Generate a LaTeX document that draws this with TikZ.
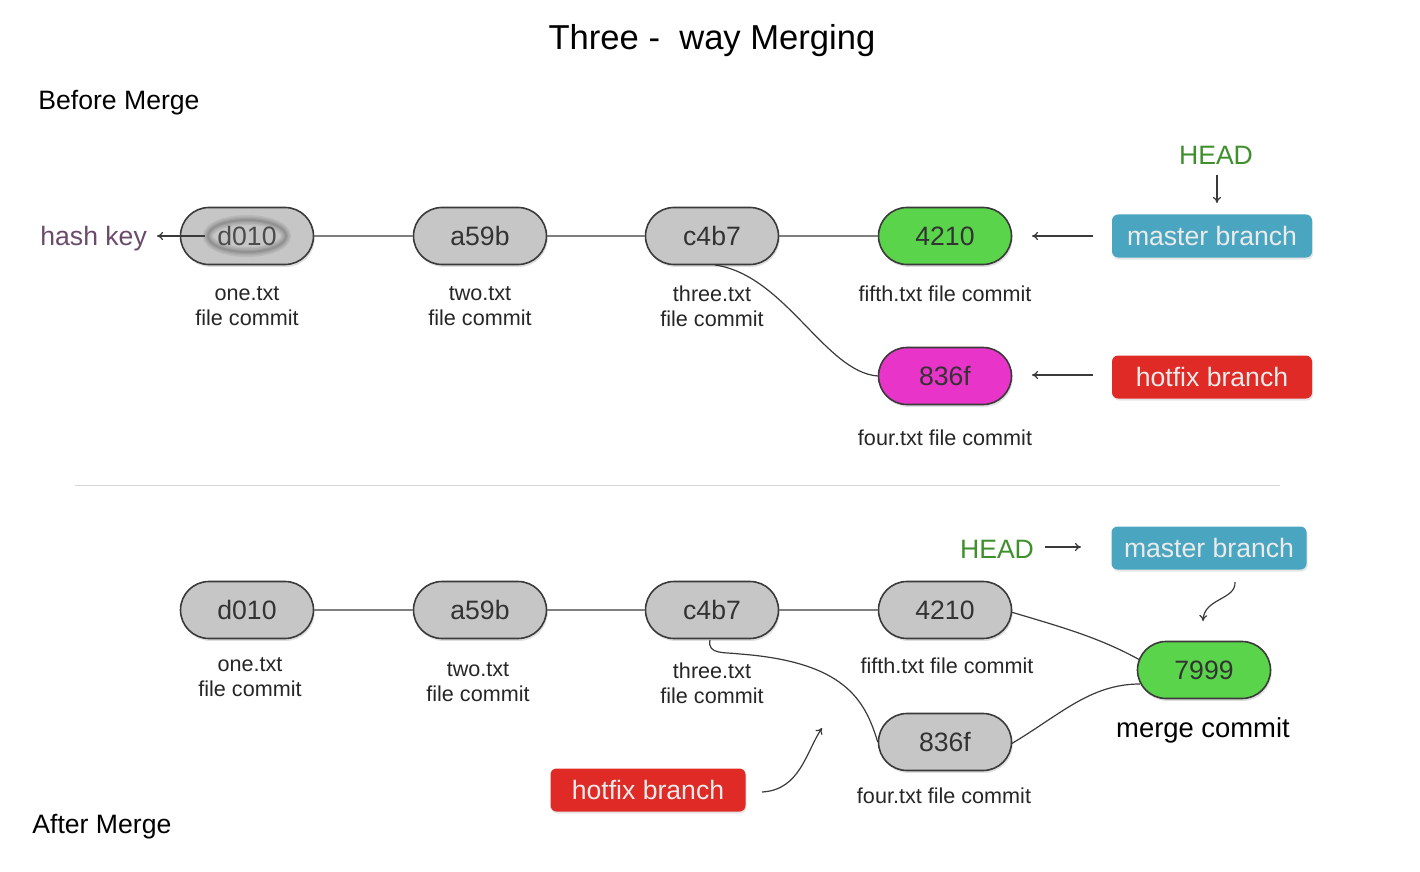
\documentclass[tikz,border=0pt]{standalone}
\usepackage{fontspec}
\setmainfont{Liberation Sans}
\usetikzlibrary{shapes.misc,shadows,arrows.meta}
\definecolor{pillgray}{HTML}{C6C6C6}
\definecolor{pillgreen}{HTML}{5AD44A}
\definecolor{pillmag}{HTML}{E834C8}
\definecolor{boxteal}{HTML}{4AA6C0}
\definecolor{boxred}{HTML}{E02A25}
\definecolor{headgreen}{HTML}{3F8F2C}
\definecolor{hashpurple}{HTML}{6A4B6A}
\definecolor{linegray}{HTML}{3A3A3A}
\begin{document}
\begin{tikzpicture}[x=0.5pt,y=-0.5pt,
  pill/.style={rounded rectangle, draw=linegray, line width=0.8pt, fill=pillgray,
    minimum width=66.5pt, minimum height=28.5pt, inner sep=0pt,
    font=\fontsize{13.3}{16}\selectfont, text=black!80,
    drop shadow={opacity=0.25, shadow xshift=0.6pt, shadow yshift=-1.2pt}},
  branchbox/.style={rectangle, rounded corners=3pt, minimum width=100pt, minimum height=21.5pt,
    inner sep=0pt, font=\fontsize{13.3}{16}\selectfont, text=white!92!black,
    drop shadow={opacity=0.2, shadow xshift=0.5pt, shadow yshift=-1pt}},
  lbl/.style={font=\fontsize{10.8}{12.6}\selectfont, align=center, text=black!85, inner sep=0pt},
  big/.style={font=\fontsize{13.3}{16}\selectfont, inner sep=0pt},
  conn/.style={draw=linegray, line width=0.6pt},
  arr/.style={draw=linegray, line width=0.6pt, -{To[length=3pt,width=4pt]}},
  glow/.style={draw=black, line width=#1, opacity=0.07}
]
\useasboundingbox (0,0) rectangle (1420,872);

% title and section labels
\node[font=\fontsize{17.3}{20}\selectfont, inner sep=0pt] (title) at (712,41) {Three -\ \ way Merging};
\node[big, anchor=west] (before) at (38,103) {Before Merge};
\node[big, anchor=west] (after) at (32,827) {After Merge};

% ---------------- Before merge ----------------
\node[pill] (t1) at (247,236) {};
\draw[glow=5pt] (247,236) ellipse (39 and 16);
\draw[glow=3.5pt] (247,236) ellipse (39 and 16);
\draw[glow=2pt] (247,236) ellipse (39 and 16);
\draw[glow=1pt] (247,236) ellipse (39 and 16);
\node[font=\fontsize{13.3}{16}\selectfont, text=black!70, inner sep=0pt] (t1txt) at (247,236) {d010};
\node[pill] (t2) at (480,236) {a59b};
\node[pill] (t3) at (712,236) {c4b7};
\node[pill, fill=pillgreen] (t4) at (945,236) {4210};
\node[pill, fill=pillmag] (t5) at (945,376) {836f};

\node[lbl] (l1) at (247,306) {one.txt\\file commit};
\node[lbl] (l2) at (480,306) {two.txt\\file commit};
\node[lbl] (l3) at (712,306) {three.txt\\file commit};
\node[lbl] (l4) at (945,294) {fifth.txt file commit};
\node[lbl] (l5) at (945,438) {four.txt file commit};

\node[big, text=hashpurple, anchor=west] (hash) at (40,239) {hash key};
\coordinate (hashstart) at (205,236);
\draw[arr] (hashstart) -- (157,236);

\draw[conn] (t1) -- (t2);
\draw[conn] (t2) -- (t3);
\draw[conn] (t3) -- (t4);
\coordinate (t3b) at (715,265);
\draw[conn] (t3b) .. controls (785,275) and (825,372) .. (t5.west);

\node[branchbox, fill=boxteal] (mb1) at (1212,236) {master branch};
\node[branchbox, fill=boxred] (hb1) at (1212,377) {hotfix branch};
\coordinate (a1s) at (1093,236);
\coordinate (a1e) at (1032,236);
\draw[arr] (a1s) -- (a1e);
\coordinate (a2s) at (1093,375);
\coordinate (a2e) at (1032,375);
\draw[arr] (a2s) -- (a2e);

\node[big, text=headgreen] (head1) at (1216,155) {HEAD};
\coordinate (h1s) at (1217,175);
\coordinate (h1e) at (1217,203);
\draw[arr] (h1s) -- (h1e);

% separator
\coordinate (sepl) at (75,485);
\coordinate (sepr) at (1280,485);
\draw[draw=black!15, line width=0.5pt] (sepl) -- (sepr);

% ---------------- After merge ----------------
\node[pill] (b1) at (247,610) {d010};
\node[pill] (b2) at (480,610) {a59b};
\node[pill] (b3) at (712,610) {c4b7};
\node[pill] (b4) at (945,610) {4210};
\node[pill] (b5) at (945,742) {836f};
\node[pill, fill=pillgreen] (b6) at (1204,670) {7999};

\node[lbl] (m1) at (250,677) {one.txt\\file commit};
\node[lbl] (m2) at (478,682) {two.txt\\file commit};
\node[lbl] (m3) at (712,683) {three.txt\\file commit};
\node[lbl] (m4) at (947,666) {fifth.txt file commit};
\node[lbl] (m5) at (944,796) {four.txt file commit};
\node[font=\fontsize{13.7}{16}\selectfont, inner sep=0pt] (m6) at (1203,730) {merge commit};

\draw[conn] (b1) -- (b2);
\draw[conn] (b2) -- (b3);
\draw[conn] (b3) -- (b4);
\coordinate (b3b) at (710,640);
\draw[conn] (b3b) .. controls (707,655) and (725,652) .. (740,654)
  .. controls (845,662) and (865,700) .. (b5.west);
\coordinate (b4r) at (1011,612);
\coordinate (b6a) at (1140,660);
\draw[conn] (b4r) .. controls (1065,628) and (1100,638) .. (b6a);
\coordinate (b5r) at (1011,744);
\coordinate (b6b) at (1140,684);
\draw[conn] (b5r) .. controls (1060,715) and (1090,684) .. (b6b);

\node[big, text=headgreen] (head2) at (997,549) {HEAD};
\coordinate (h2s) at (1045,547);
\coordinate (h2e) at (1081,547);
\draw[arr] (h2s) -- (h2e);
\node[branchbox, fill=boxteal, minimum width=97.5pt] (mb2) at (1209,548) {master branch};
\coordinate (mb2s) at (1235,582);
\coordinate (mb2e) at (1203,621);
\draw[arr] (mb2s) .. controls (1236,600) and (1204,598) .. (mb2e);

\node[branchbox, fill=boxred, minimum width=97.5pt] (hb2) at (648,790) {hotfix branch};
\coordinate (hb2s) at (762,792);
\coordinate (hb2e) at (822,728);
\draw[arr] (hb2s) .. controls (800,790) and (806,752) .. (hb2e);

\end{tikzpicture}
\end{document}
